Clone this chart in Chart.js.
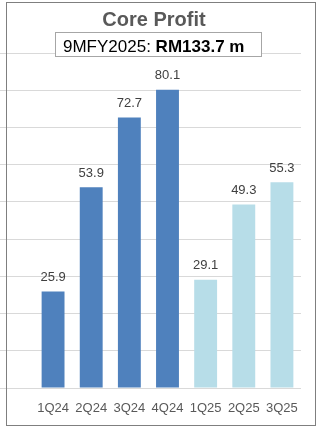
<!DOCTYPE html>
<html>
<head>
<meta charset="utf-8">
<script src="https://cdn.jsdelivr.net/npm/chart.js@4/dist/chart.umd.min.js"></script>
<style>
  html, body { margin: 0; padding: 0; background: #ffffff; }
  #wrap { width: 323px; height: 431px; position: relative; }
</style>
</head>
<body>
<div id="wrap"><canvas id="c" width="323" height="431"></canvas></div>
<script>
// Quarterly core profit (RM million)
const quarters = ['1Q24', '2Q24', '3Q24', '4Q24', '1Q25', '2Q25', '3Q25'];
const coreProfit = [25.9, 53.9, 72.7, 80.1, 29.1, 49.3, 55.3];
const barColors = ['#4F81BD', '#4F81BD', '#4F81BD', '#4F81BD', '#B7DDE8', '#B7DDE8', '#B7DDE8'];
const titleText = 'Core Profit';
const periodLabel = '9MFY2025: ';
const periodTotal = 'RM133.7 m';
const yMax = 90;
const yStep = 10;

const FONT = '"Liberation Sans", Arial, sans-serif';

// Value labels above each bar
const valueLabels = {
  id: 'valueLabels',
  afterDatasetsDraw(chart) {
    const ctx = chart.ctx;
    const meta = chart.getDatasetMeta(0);
    ctx.save();
    ctx.font = '13px ' + FONT;
    ctx.fillStyle = '#404040';
    ctx.textAlign = 'center';
    ctx.textBaseline = 'middle';
    meta.data.forEach((bar, i) => {
      ctx.fillText(coreProfit[i].toFixed(1), bar.x, bar.y - 14);
    });
    ctx.restore();
  }
};

// Title, period total box and outer frame
const decorations = {
  id: 'decorations',
  afterDraw(chart) {
    const ctx = chart.ctx;
    ctx.save();
    // frame
    ctx.strokeStyle = '#7F7F7F';
    ctx.lineWidth = 1;
    ctx.strokeRect(6.5, 2.5, 309, 423);
    // title
    ctx.font = 'bold 20px ' + FONT;
    ctx.fillStyle = '#595959';
    ctx.textAlign = 'center';
    ctx.textBaseline = 'middle';
    ctx.fillText(titleText, 154, 20);
    // total box
    ctx.fillStyle = '#ffffff';
    ctx.fillRect(55, 32, 207, 25);
    ctx.strokeStyle = '#A6A6A6';
    ctx.strokeRect(55.5, 32.5, 206, 24);
    ctx.textAlign = 'left';
    ctx.textBaseline = 'alphabetic';
    ctx.fillStyle = '#000000';
    ctx.font = '17px ' + FONT;
    const w1 = ctx.measureText(periodLabel).width;
    ctx.fillText(periodLabel, 63, 52);
    ctx.font = 'bold 17px ' + FONT;
    ctx.fillText(periodTotal, 63 + w1, 52);
    ctx.restore();
  }
};

new Chart(document.getElementById('c'), {
  type: 'bar',
  data: {
    labels: quarters,
    datasets: [{
      data: coreProfit,
      backgroundColor: barColors,
      borderWidth: 0,
      barPercentage: 0.6,
      categoryPercentage: 1.0
    }]
  },
  options: {
    responsive: false,
    animation: false,
    devicePixelRatio: 1,
    layout: { padding: { top: 53, right: 22, bottom: 0, left: 0 } },
    plugins: {
      legend: { display: false },
      title: { display: false },
      tooltip: { enabled: false }
    },
    scales: {
      x: {
        grid: { display: false, drawTicks: false },
        border: { display: false },
        ticks: {
          color: '#595959',
          font: { family: FONT, size: 13 },
          padding: 13,
          maxRotation: 0,
          autoSkip: false
        },
        afterFit(scale) { scale.height = 43; }
      },
      y: {
        min: 0,
        max: yMax,
        ticks: { stepSize: yStep, display: false },
        grid: { color: '#D9D9D9', lineWidth: 1, drawTicks: true, tickLength: 34, tickColor: '#D9D9D9' },
        border: { display: false },
        afterFit(scale) { scale.width = 34; }
      }
    }
  },
  plugins: [valueLabels, decorations]
});
</script>
</body>
</html>
